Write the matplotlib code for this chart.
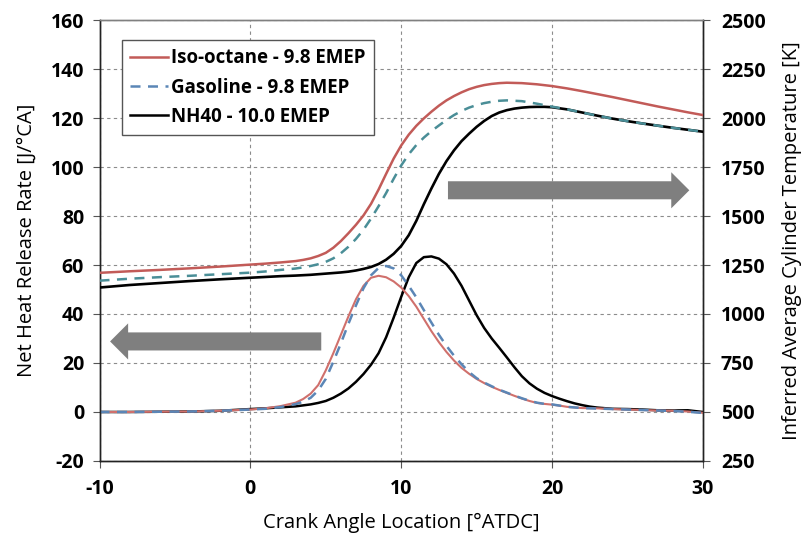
import matplotlib
matplotlib.use("Agg")
import matplotlib.pyplot as plt
from matplotlib.patches import FancyArrowPatch
from matplotlib.lines import Line2D

# ---------------- data ----------------
# Inferred average cylinder temperature [K]
ca_t_iso = [-10, -8, -6, -4, -2, 0, 1, 2, 3, 3.5, 4, 4.5, 5, 5.5, 6, 6.5, 7, 7.5, 8, 8.5, 9, 9.5,
            10, 10.5, 11, 11.5, 12, 12.5, 13, 13.5, 14, 14.5, 15, 15.5, 16, 16.5, 17, 18, 19, 20,
            21, 22, 23, 24, 25, 26, 27, 28, 29, 30]
t_iso = [1210, 1218, 1225, 1233, 1242, 1252, 1257, 1263, 1270, 1276, 1284, 1296, 1312, 1338, 1372,
         1412, 1455, 1503, 1562, 1635, 1715, 1793, 1860, 1915, 1960, 1998, 2032, 2063, 2090, 2112,
         2131, 2147, 2159, 2168, 2174, 2178, 2180, 2178, 2172, 2163, 2151, 2137, 2122, 2107, 2091,
         2075, 2059, 2044, 2029, 2015]

ca_t_gas = [-10, -8, -6, -4, -2, 0, 1, 2, 3, 3.5, 4, 4.5, 5, 5.5, 6, 6.5, 7, 7.5, 8, 8.5, 9, 9.5,
            10, 10.5, 11, 11.5, 12, 12.5, 13, 13.5, 14, 14.5, 15, 15.5, 16, 16.5, 17, 18, 19, 20,
            21, 22, 23, 24, 25, 26, 27, 28, 29, 30]
t_gas = [1170, 1180, 1188, 1195, 1203, 1211, 1217, 1225, 1232, 1238, 1245, 1254, 1266, 1284, 1310,
         1343, 1383, 1430, 1487, 1550, 1617, 1690, 1758, 1815, 1862, 1900, 1933, 1962, 1990, 2015,
         2036, 2053, 2066, 2076, 2083, 2088, 2090, 2086, 2073, 2058, 2044, 2028, 2012, 1997, 1984,
         1972, 1961, 1950, 1940, 1930]

ca_t_nh = [-10, -8, -6, -4, -2, 0, 2, 3, 4, 5, 6, 6.5, 7, 7.5, 8, 8.5, 9, 9.5, 10, 10.5, 11, 11.5,
           12, 12.5, 13, 13.5, 14, 14.5, 15, 15.5, 16, 16.5, 17, 17.5, 18, 18.5, 19, 19.5, 20,
           21, 22, 23, 24, 25, 26, 27, 28, 29, 30]
t_nh = [1135, 1148, 1158, 1168, 1177, 1185, 1193, 1196, 1200, 1206, 1212, 1216, 1222, 1230, 1240,
        1255, 1277, 1307, 1347, 1402, 1475, 1560, 1640, 1715, 1780, 1835, 1882, 1920, 1955, 1985,
        2010, 2028, 2040, 2048, 2053, 2056, 2057, 2057, 2055, 2044, 2028, 2012, 1997, 1984, 1972,
        1961, 1950, 1940, 1930]

# Net heat release rate [J/degCA]
ca_h_iso = [-10, -8, -6, -4, -2, 0, 1, 2, 3, 3.5, 4, 4.5, 5, 5.5, 6, 6.5, 7, 7.5, 8, 8.5, 9, 9.5,
            10, 10.5, 11, 11.5, 12, 12.5, 13, 13.5, 14, 14.5, 15, 15.5, 16, 16.5, 17, 17.5, 18,
            18.5, 19, 19.5, 20, 20.5, 21, 22, 23, 24, 25, 26, 27, 28, 29, 30]
h_iso = [0, 0, 0.1, 0.2, 0.5, 1, 1.5, 2.4, 3.8, 5.3, 7.5, 11, 17, 24, 31.5, 39, 46, 51.5, 54.8,
         55.6, 55, 53.3, 50.8, 47.3, 43, 38, 33, 28.5, 24.5, 21, 18, 15.6, 13.5, 11.8, 10.3, 9,
         7.8, 6.6, 5.5, 4.5, 3.7, 3.3, 3.0, 2.6, 2.1, 1.6, 1.5, 1.2, 1.0, 0.8, 0.6, 0.5, 0.2, -0.3]

ca_h_gas = [-10, -8, -6, -4, -2, 0, 1, 2, 3, 3.5, 4, 4.5, 5, 5.5, 6, 6.5, 7, 7.5, 8, 8.5, 9, 9.5,
            10, 10.5, 11, 11.5, 12, 12.5, 13, 13.5, 14, 14.5, 15, 15.5, 16, 16.5, 17, 17.5, 18,
            18.5, 19, 19.5, 20, 20.5, 21, 22, 23, 24, 25, 26, 27, 28, 29, 30]
h_gas = [0, 0, 0.1, 0.2, 0.5, 1, 1.3, 2, 3.2, 4.2, 5.8, 8.8, 13.5, 20.5, 28, 36, 43.5, 50.5, 55.8,
         58.8, 59.6, 58.6, 55.8, 51.5, 46.8, 41.6, 36.5, 31.5, 27, 23, 19.5, 16.3, 13.8, 12, 10.5,
         9.1, 7.9, 6.7, 5.6, 4.6, 3.8, 3.3, 3.1, 2.6, 2.1, 1.6, 1.4, 1.2, 1.0, 0.8, 0.6, 0.4, 0.1, -0.4]

ca_h_nh = [-10, -8, -6, -4, -2, 0, 1, 2, 3, 4, 4.5, 5, 5.5, 6, 6.5, 7, 7.5, 8, 8.5, 9, 9.5, 10,
           10.5, 11, 11.5, 12, 12.5, 13, 13.5, 14, 14.5, 15, 15.5, 16, 16.5, 17, 17.5, 18, 18.5,
           19, 19.5, 20, 20.5, 21, 21.5, 22, 22.5, 23, 24, 25, 26, 27, 28, 29, 30]
h_nh = [0, 0, 0.1, 0.2, 0.5, 1.2, 1.5, 1.9, 2.3, 3.1, 3.7, 4.5, 5.8, 7.5, 9.6, 12.3, 15.5, 19.3,
        24, 30.5, 38.5, 47, 55, 60.8, 63.2, 63.5, 62.6, 60.3, 56.5, 51.5, 45.5, 39.5, 34.3, 30,
        26.2, 22.3, 18.3, 14.6, 11.7, 9.5, 7.8, 6.5, 5.4, 4.4, 3.5, 2.8, 2.2, 1.8, 1.3, 1.2, 1.0,
        0.7, 0.6, 0.7, 0.0]

legend_labels = ["Iso-octane - 9.8 EMEP", "Gasoline - 9.8 EMEP", "NH40 - 10.0 EMEP"]

x_ticks = [-10, 0, 10, 20, 30]
y_ticks = [-20, 0, 20, 40, 60, 80, 100, 120, 140, 160]
y2_ticks = [250, 500, 750, 1000, 1250, 1500, 1750, 2000, 2250, 2500]

# ---------------- style ----------------
FONT = ["Open Sans", "DejaVu Sans"]
plt.rcParams["font.family"] = FONT
plt.rcParams["axes.unicode_minus"] = False

c_red = "#C25B58"
c_red_h = "#D0706C"
c_teal = "#4A8E97"
c_blue = "#5B86B6"
c_black = "#000000"
arrow_gray = "#7F7F7F"

fig = plt.figure(figsize=(8.11, 5.44), dpi=100)
ax = fig.add_axes([0.1227, 0.1526, 0.744, 0.8106])
ax2 = ax.twinx()

# HRR curves (left axis)
ax.plot(ca_h_nh, h_nh, color=c_black, lw=1.8, zorder=3)
ax.plot(ca_h_iso, h_iso, color=c_red_h, lw=1.5, zorder=4)
ax.plot(ca_h_gas, h_gas, color=c_blue, lw=1.8, ls=(0, (4, 3)), zorder=5)

# Temperature curves (right axis)
ax2.plot(ca_t_nh, t_nh, color=c_black, lw=1.9, zorder=3)
ax2.plot(ca_t_iso, t_iso, color=c_red, lw=1.8, zorder=4)
ax2.plot(ca_t_gas, t_gas, color=c_teal, lw=1.8, ls=(0, (4, 3)), zorder=5)

ax.set_xlim(-10, 30)
ax.set_ylim(-20, 160)
ax2.set_ylim(250, 2500)
ax.set_xticks(x_ticks)
ax.set_yticks(y_ticks)
ax2.set_yticks(y2_ticks)

ax.grid(True, color="#8C8C8C", ls=(0, (3, 3)), lw=0.8)
ax.set_axisbelow(True)

for a in (ax, ax2):
    a.tick_params(labelsize=14, length=5, width=0.8, color="#555555", direction="out")
    for lab in a.get_xticklabels() + a.get_yticklabels():
        lab.set_fontweight("bold")
    for s in ("left", "right", "bottom"):
        a.spines[s].set_color("#222222")
        a.spines[s].set_linewidth(1.0)
    a.spines["top"].set_color("#808080")
    a.spines["top"].set_linewidth(1.0)
ax.tick_params(axis="x", pad=8)
ax.tick_params(axis="y", pad=6)
ax2.tick_params(axis="y", pad=8)

ax.set_xlabel("Crank Angle Location [°ATDC]", fontsize=14.5, labelpad=10)
ax.set_ylabel("Net Heat Release Rate [J/°CA]", fontsize=14.5, labelpad=10)
ax2.set_ylabel("Inferred Average Cylinder Temperature [K]", fontsize=14.5, labelpad=12)

# direction arrows
arr_style = "Simple,head_length=13,head_width=26,tail_width=13"
ax.add_patch(FancyArrowPatch((4.7, 28.8), (-9.3, 28.8), arrowstyle=arr_style,
                             mutation_scale=1, color=arrow_gray, lw=0,
                             shrinkA=0, shrinkB=0, zorder=2))
ax.add_patch(FancyArrowPatch((13.1, 90.5), (29.1, 90.5), arrowstyle=arr_style,
                             mutation_scale=1, color=arrow_gray, lw=0,
                             shrinkA=0, shrinkB=0, zorder=2))

handles = [Line2D([], [], color=c_red, lw=1.8),
           Line2D([], [], color=c_blue, lw=1.8, ls=(0, (4, 3))),
           Line2D([], [], color=c_black, lw=1.8)]
leg = ax2.legend(handles, legend_labels, loc="upper left", bbox_to_anchor=(0.037, 0.955),
                 borderaxespad=0, fancybox=False, framealpha=1, edgecolor="#555555",
                 handlelength=2.0, handletextpad=0.15, borderpad=0.45, labelspacing=0.5,
                 prop={"family": FONT, "weight": "bold", "size": 13.5})
leg.get_frame().set_linewidth(1.0)

fig.savefig("out.png", dpi=100)
